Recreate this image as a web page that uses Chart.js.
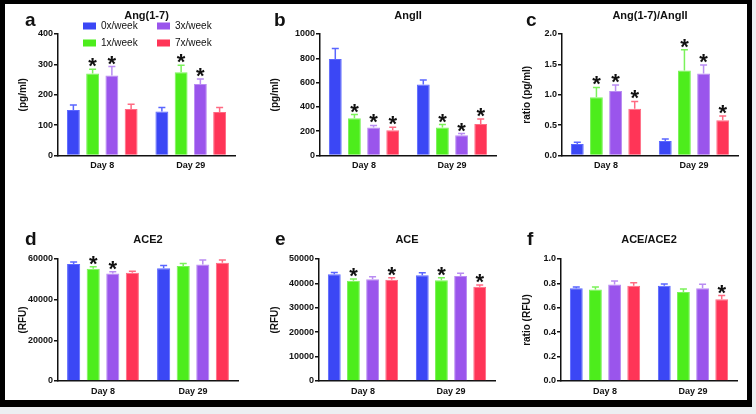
<!DOCTYPE html>
<html lang="en">
<head>
<meta charset="UTF-8">
<title>Ang(1-7), AngII, ACE2 and ACE</title>
<script src="https://cdn.jsdelivr.net/npm/chart.js"></script>
<style>
  body { margin: 0; background: #eceff2; }
  .frame {
    position: absolute; left: 0; top: 0; width: 752px; height: 407px;
    box-sizing: border-box; background: #fff;
    border: 5px solid #000; border-top-width: 4px; border-bottom-width: 7px;
  }
  .panel { position: absolute; width: 252px; height: 207px; }
</style>
</head>
<body>
<div class="frame"></div>
<div class="panel" style="left:0;top:0"><canvas id="chartA" width="252" height="207"></canvas></div>
<div class="panel" style="left:252px;top:0"><canvas id="chartB" width="252" height="207"></canvas></div>
<div class="panel" style="left:504px;top:0"><canvas id="chartC" width="252" height="207"></canvas></div>
<div class="panel" style="left:0;top:207px"><canvas id="chartD" width="252" height="207"></canvas></div>
<div class="panel" style="left:252px;top:207px"><canvas id="chartE" width="252" height="207"></canvas></div>
<div class="panel" style="left:504px;top:207px"><canvas id="chartF" width="252" height="207"></canvas></div>

<script>
// categories and groups
const days = ['Day 8', 'Day 29'];
const groups = ['0x/week', '1x/week', '3x/week', '7x/week'];

// one row per group (0x, 1x, 3x, 7x), one column per day
// a: Ang(1-7) (pg/ml)
const ang17Mean = [[150, 145], [270, 274], [263, 235], [153, 143]];
const ang17Sem  = [[16, 13], [14, 23], [30, 17], [16, 15]];
const ang17Star = [[0, 0], [1, 1], [1, 1], [0, 0]];

// b: AngII (pg/ml)
const angIIMean = [[795, 584], [307, 230], [230, 167], [208, 260]];
const angIISem  = [[85, 38], [30, 25], [17, 14], [25, 41]];
const angIIStar = [[0, 0], [1, 1], [1, 1], [1, 1]];

// c: Ang(1-7)/AngII ratio
const ratioMean = [[0.19, 0.24], [0.96, 1.40], [1.06, 1.35], [0.77, 0.58]];
const ratioSem  = [[0.03, 0.03], [0.16, 0.34], [0.10, 0.14], [0.12, 0.07]];
const ratioStar = [[0, 0], [1, 1], [1, 1], [1, 1]];

// d: ACE2 (RFU)
const ace2Mean = [[57500, 55500], [55200, 56500], [52900, 57300], [53200, 58200]];
const ace2Sem  = [[1000, 1300], [1000, 1300], [800, 2200], [800, 1300]];
const ace2Star = [[0, 0], [1, 0], [1, 0], [0, 0]];

// e: ACE (RFU)
const aceMean = [[43800, 43300], [41100, 41300], [41700, 43000], [41500, 38600]];
const aceSem  = [[700, 1100], [700, 1000], [1000, 1200], [800, 700]];
const aceStar = [[0, 0], [1, 1], [0, 0], [1, 1]];

// f: ACE/ACE2 ratio (RFU)
const aceRatioMean = [[0.76, 0.78], [0.75, 0.73], [0.79, 0.76], [0.78, 0.67]];
const aceRatioSem  = [[0.01, 0.015], [0.02, 0.025], [0.03, 0.033], [0.025, 0.03]];
const aceRatioStar = [[0, 0], [0, 0], [0, 0], [0, 1]];

// styling
const fills   = ['#3b47f5', '#4ded1c', '#9a55ec', '#ff3557'];
const borders = ['#5a66ff', '#7bf25a', '#b98cf2', '#ff6a82'];
const ink = '#111';
const FONT = "'Liberation Sans', Arial, sans-serif";

const panels = [
  { id: 'chartA', letter: 'a', title: 'Ang(1-7)', yTitle: '(pg/ml)', max: 400, step: 100, dec: 0,
    mean: ang17Mean, sem: ang17Sem, star: ang17Star, axisX: 58, plotW: 177, row: 0, letterX: 25, legend: true },
  { id: 'chartB', letter: 'b', title: 'AngII', yTitle: '(pg/ml)', max: 1000, step: 200, dec: 0,
    mean: angIIMean, sem: angIISem, star: angIIStar, axisX: 68, plotW: 176, row: 0, letterX: 22 },
  { id: 'chartC', letter: 'c', title: 'Ang(1-7)/AngII', yTitle: 'ratio (pg/ml)', max: 2, step: 0.5, dec: 1,
    mean: ratioMean, sem: ratioSem, star: ratioStar, axisX: 58, plotW: 176, row: 0, letterX: 22 },
  { id: 'chartD', letter: 'd', title: 'ACE2', yTitle: '(RFU)', max: 60000, step: 20000, dec: 0,
    mean: ace2Mean, sem: ace2Sem, star: ace2Star, axisX: 58, plotW: 180, row: 1, letterX: 25 },
  { id: 'chartE', letter: 'e', title: 'ACE', yTitle: '(RFU)', max: 50000, step: 10000, dec: 0,
    mean: aceMean, sem: aceSem, star: aceStar, axisX: 67, plotW: 176, row: 1, letterX: 23 },
  { id: 'chartF', letter: 'f', title: 'ACE/ACE2', yTitle: 'ratio (RFU)', max: 1, step: 0.2, dec: 1,
    mean: aceRatioMean, sem: aceRatioSem, star: aceRatioStar, axisX: 57, plotW: 176, row: 1, letterX: 23 }
];

// error bars, asterisks, titles, panel letters, legend
const extras = {
  id: 'extras',
  afterDatasetsDraw(chart) {
    const ctx = chart.ctx;
    const y = chart.scales.y;
    ctx.save();
    chart.data.datasets.forEach((ds, i) => {
      chart.getDatasetMeta(i).data.forEach((bar, j) => {
        const top = y.getPixelForValue(ds.data[j] + ds.sem[j]);
        ctx.strokeStyle = ds.borderColor;
        ctx.lineWidth = 1.5;
        ctx.beginPath();
        ctx.moveTo(bar.x, bar.y);
        ctx.lineTo(bar.x, top);
        ctx.moveTo(bar.x - 3.5, top);
        ctx.lineTo(bar.x + 3.5, top);
        ctx.stroke();
        if (ds.star[j]) {
          ctx.font = 'bold 22px ' + FONT;
          ctx.fillStyle = ink;
          ctx.textAlign = 'center';
          ctx.textBaseline = 'alphabetic';
          const m = ctx.measureText('*');
          ctx.fillText('*', bar.x, top - 2 - m.actualBoundingBoxDescent);
        }
      });
    });
    ctx.restore();
  },
  afterDraw(chart, args, opts) {
    const ctx = chart.ctx;
    const area = chart.chartArea;
    const titleY = opts.row === 0 ? 19 : 36;
    const letterY = opts.row === 0 ? 26 : 38;
    ctx.save();
    ctx.fillStyle = ink;
    ctx.textBaseline = 'alphabetic';
    ctx.textAlign = 'center';
    ctx.font = 'bold 11px ' + FONT;
    ctx.fillText(opts.title, (area.left + area.right) / 2, titleY);
    ctx.textAlign = 'left';
    ctx.font = 'bold 19px ' + FONT;
    ctx.fillText(opts.letter, opts.letterX, letterY);
    if (opts.legend) {
      // two columns: 0x/1x on the left, 3x/7x on the right
      const cols = [83, 157], rows = [26, 43];
      ctx.font = '10px ' + FONT;
      ctx.textBaseline = 'middle';
      groups.forEach((g, k) => {
        const bx = cols[k < 2 ? 0 : 1], by = rows[k % 2];
        ctx.fillStyle = fills[k];
        ctx.fillRect(bx, by - 3.5, 13, 7);
        ctx.fillStyle = ink;
        ctx.fillText(g, bx + 18, by + 0.5);
      });
    }
    ctx.restore();
  }
};

panels.forEach(p => {
  const plotTop = p.row === 0 ? 34 : 52;
  const plotBottom = p.row === 0 ? 155.5 : 174;
  const padLeft = 8;
  const xHeight = 20;
  new Chart(document.getElementById(p.id), {
    type: 'bar',
    data: {
      labels: days,
      datasets: groups.map((g, k) => ({
        label: g,
        data: p.mean[k],
        sem: p.sem[k],
        star: p.star[k],
        backgroundColor: fills[k],
        borderColor: borders[k],
        borderWidth: 1,
        categoryPercentage: 0.87,
        barPercentage: 0.67
      }))
    },
    options: {
      responsive: false,
      animation: false,
      layout: {
        padding: {
          left: padLeft,
          top: plotTop,
          right: 252 - p.axisX - p.plotW,
          bottom: 207 - plotBottom - xHeight
        }
      },
      plugins: {
        legend: { display: false },
        tooltip: { enabled: false },
        extras: { title: p.title, letter: p.letter, letterX: p.letterX, row: p.row, legend: !!p.legend }
      },
      scales: {
        x: {
          offset: true,
          grid: { display: false, drawTicks: false },
          border: { display: true, color: ink, width: 1.5 },
          ticks: { color: ink, padding: 5, font: { family: FONT, size: 9, weight: 'bold' } },
          afterFit: s => { s.height = xHeight; }
        },
        y: {
          min: 0,
          max: p.max,
          ticks: {
            stepSize: p.step,
            color: ink,
            padding: 1,
            font: { family: FONT, size: 9, weight: 'bold' },
            callback: v => v.toFixed(p.dec)
          },
          grid: { display: true, drawOnChartArea: false, drawTicks: true, tickLength: 4, color: ink, lineWidth: 1.5 },
          border: { display: true, color: ink, width: 1.5 },
          title: {
            display: true,
            text: p.yTitle,
            color: ink,
            padding: { top: 9, bottom: 0 },
            font: { family: FONT, size: 10, weight: 'bold' }
          },
          afterFit: s => { s.width = p.axisX - padLeft; }
        }
      }
    },
    plugins: [extras]
  });
});
</script>
</body>
</html>
